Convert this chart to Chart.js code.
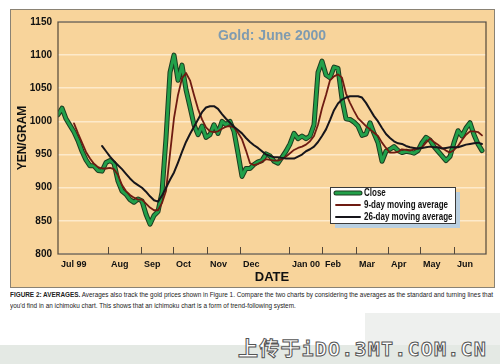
<!DOCTYPE html>
<html><head><meta charset="utf-8">
<script src="https://cdn.jsdelivr.net/npm/chart.js@4"></script>
<style>
html,body{margin:0;padding:0;background:#fff;width:500px;height:364px;overflow:hidden;position:relative;font-family:'Liberation Sans',Arial,sans-serif}
#panel{position:absolute;left:10px;top:9px;width:483px;height:277px;border:1px solid #8a8274;background:#f8d49b}
#c{position:absolute;left:0;top:0}
#cap{position:absolute;left:10px;top:290px;font-family:'Liberation Sans',sans-serif;font-size:7.4px;line-height:10.5px;color:#222;white-space:nowrap;transform-origin:0 0}
#cap b{font-weight:bold}
#band{position:absolute;left:0;top:345px;width:500px;height:19px;background:#e4e9e4}
#box{position:absolute;left:365px;top:313px;width:135px;height:32px;background:#eef0ee}
#wm{position:absolute;right:13px;top:333px;font-family:'DejaVu Sans Mono','Noto Sans CJK SC',monospace;font-size:20px;letter-spacing:1.2px;color:#fff;-webkit-text-stroke:1px #555;font-weight:bold;white-space:nowrap}
</style></head>
<body>
<div id="box"></div>
<div id="band"></div>
<div id="panel"><canvas id="c" width="483" height="277"></canvas></div>
<div id="cap"><b>FIGURE 2: AVERAGES.</b> Averages also track the gold prices shown in Figure 1. Compare the two charts by considering the averages as the standard and turning lines that<br>you'd find in an ichimoku chart. This shows that an ichimoku chart is a form of trend-following system.</div>
<div id="wm">上传于iDO.3MT.COM.CN</div>
<script>
const chartTitle = 'Gold: June 2000';
const monthLabels = ['Jul 99','Aug','Sep','Oct','Nov','Dec','Jan 00','Feb','Mar','Apr','May','Jun'];
const monthTicks = [0,12.5,20.75,28.75,37.25,45.5,57.75,66,74.5,82.5,90.5,99];
const yMin = 800, yMax = 1150, yStep = 50;
const seriesNames = ['Close','9-day moving average','26-day moving average'];

const closeValues = [1010,1020,1004,994,984,971,955,942,933,933,
926,925,938,941,937,910,895,890,882,878,
883,880,860,845,858,864,893,975,1074,1100,
1062,1085,1048,1022,995,980,993,976,980,995,
982,1000,995,1000,985,952,917,929,929,935,
939,941,951,948,940,937,946,955,966,982,
974,978,974,978,995,1074,1091,1070,1066,1082,
1080,1034,1004,1003,999,993,979,981,998,982,
968,940,955,958,962,956,953,955,954,952,
956,968,976,972,962,955,948,941,947,968,
986,978,990,998,980,966,956];

const ma9Values = [null,null,null,null,
997,982,968,954,944,936,931,929,929,930,
928,919,904,895,889,885,882,882,876,870,
866,866,877,895,951,1005,1040,1065,1073,1062,
1040,1019,1003,991,985,984,985,989,992,993,
991,983,973,956,937,934,936,939,943,942,
941,941,943,947,952,957,960,962,965,970,
978,995,1020,1040,1062,1068,1071,1066,1042,1028,
1016,1005,999,993,988,983,978,968,960,953,
953,954,958,957,956,958,959,961,968,974,
969,965,960,956,953,957,963,972,980,985,
985,984,979];

const ma26Values = [null,null,null,null,null,null,null,null,null,null,null,
963,955,947,940,934,928,921,914,908,904,
900,894,887,881,879,888,900,912,923,938,
954,969,981,992,1003,1014,1021,1023,1023,1019,
1011,1004,998,992,987,982,975,969,964,960,
955,950,948,946,946,945,944,944,944,947,
950,955,958,962,969,978,988,1002,1017,1027,
1033,1036,1038,1038,1038,1036,1028,1018,1008,1000,
990,981,975,970,967,966,963,961,960,959,
960,961,962,961,961,959,960,961,961,961,
963,965,966,967,968,966];

const toPts = arr => arr.map((v, i) => ({x: i, y: v}));
const FONT = "'Liberation Sans',Arial,sans-serif";

// fit caption into the panel width (condensed look)
const cap = document.getElementById('cap');
const capW = cap.getBoundingClientRect().width;
cap.style.transform = 'scaleX(' + (483 / capW).toFixed(4) + ')';

const framePlugin = {
  id: 'frame',
  afterDatasetsDraw(chart) {
    const {ctx, chartArea: a, scales: {x}} = chart;
    ctx.save();
    ctx.strokeStyle = '#54483a';
    ctx.lineWidth = 1.2;
    ctx.strokeRect(a.left, a.top, a.right - a.left, a.bottom - a.top);
    ctx.lineWidth = 1;
    x.ticks.forEach((t, i) => {
      if (i === 0) return;
      const px = Math.round(x.getPixelForValue(t.value)) + 0.5;
      ctx.beginPath(); ctx.moveTo(px, a.bottom); ctx.lineTo(px, a.bottom - 7); ctx.stroke();
    });
    ctx.font = 'bold 14px ' + FONT;
    ctx.fillStyle = '#7f9bb0';
    ctx.textAlign = 'center'; ctx.textBaseline = 'middle';
    ctx.fillText(chartTitle, (a.left + a.right) / 2, a.top + 14);
    ctx.restore();
  }
};

const legendPlugin = {
  id: 'boxLegend',
  afterDatasetsDraw(chart, args, o) {
    const ctx = chart.ctx;
    ctx.save();
    ctx.fillStyle = '#b9cfe0';
    ctx.fillRect(o.x + 5, o.y + 5, o.w, o.h);
    ctx.fillStyle = '#ffffff';
    ctx.fillRect(o.x, o.y, o.w, o.h);
    ctx.strokeStyle = '#3a3a3a'; ctx.lineWidth = 1;
    ctx.strokeRect(o.x + 0.5, o.y + 0.5, o.w, o.h);
    const ds = chart.data.datasets;
    seriesNames.forEach((name, r) => {
      const y = o.y + o.row0 + r * o.rowH;
      const layers = ds.filter(d => d.label === name || d.outlineOf === name)
                       .sort((a, b) => b.borderWidth - a.borderWidth);
      layers.forEach(d => {
        ctx.strokeStyle = d.borderColor; ctx.lineWidth = d.borderWidth; ctx.lineCap = 'round';
        ctx.beginPath(); ctx.moveTo(o.x + 6, y); ctx.lineTo(o.x + 30, y); ctx.stroke();
      });
      ctx.save();
      ctx.fillStyle = '#111';
      ctx.font = 'bold 10px ' + FONT;
      ctx.textAlign = 'left'; ctx.textBaseline = 'middle';
      ctx.translate(o.x + 34, y + 0.5);
      ctx.scale(0.8, 1);
      ctx.fillText(name, 0, 0);
      ctx.restore();
    });
    ctx.restore();
  }
};

new Chart(document.getElementById('c'), {
  type: 'line',
  data: {
    datasets: [
      {label: seriesNames[2], data: toPts(ma26Values), borderColor: '#16151b', borderWidth: 2, order: 0},
      {label: seriesNames[1], data: toPts(ma9Values), borderColor: '#6e1b12', borderWidth: 1.8, order: 1},
      {label: seriesNames[0], data: toPts(closeValues), borderColor: '#22a04a', borderWidth: 3, order: 2},
      {label: 'outline', outlineOf: seriesNames[0], data: toPts(closeValues), borderColor: '#1d3b20', borderWidth: 5, order: 3}
    ]
  },
  options: {
    responsive: false, animation: false, devicePixelRatio: 1,
    elements: {point: {radius: 0}, line: {tension: 0, borderJoinStyle: 'round', borderCapStyle: 'round'}},
    layout: {padding: {top: 8, right: 8, left: 0, bottom: 0}},
    plugins: {
      legend: {display: false}, tooltip: {enabled: false},
      boxLegend: {x: 319, y: 177, w: 125, h: 36, row0: 6, rowH: 12}
    },
    scales: {
      x: {
        type: 'linear', min: 0, max: closeValues.length,
        afterBuildTicks: s => { s.ticks = monthTicks.map(v => ({value: v})); },
        afterFit: s => { s.height = 33; },
        ticks: {autoSkip: false, maxRotation: 0, align: 'start', labelOffset: 3, padding: 5,
                font: {family: FONT, size: 9, weight: 'bold'}, color: '#111',
                callback: (v, i) => monthLabels[i]},
        grid: {display: false, drawTicks: false}, border: {display: false},
        title: {display: true, text: 'DATE', font: {family: FONT, size: 13, weight: 'bold'}, color: '#111', padding: {top: 0, bottom: 2}}
      },
      y: {
        min: yMin, max: yMax,
        afterFit: s => { s.width = 47; },
        ticks: {stepSize: yStep, padding: 6, font: {family: FONT, size: 10, weight: 'bold'}, color: '#111',
                callback: v => String(v)},
        grid: {color: '#fdeacb', lineWidth: 1.6, drawTicks: false}, border: {display: false},
        title: {display: true, text: 'YEN/GRAM', font: {family: FONT, size: 12, weight: 'bold'}, color: '#111', padding: {top: 4, bottom: 0}}
      }
    }
  },
  plugins: [framePlugin, legendPlugin]
});
</script>
</body></html>
